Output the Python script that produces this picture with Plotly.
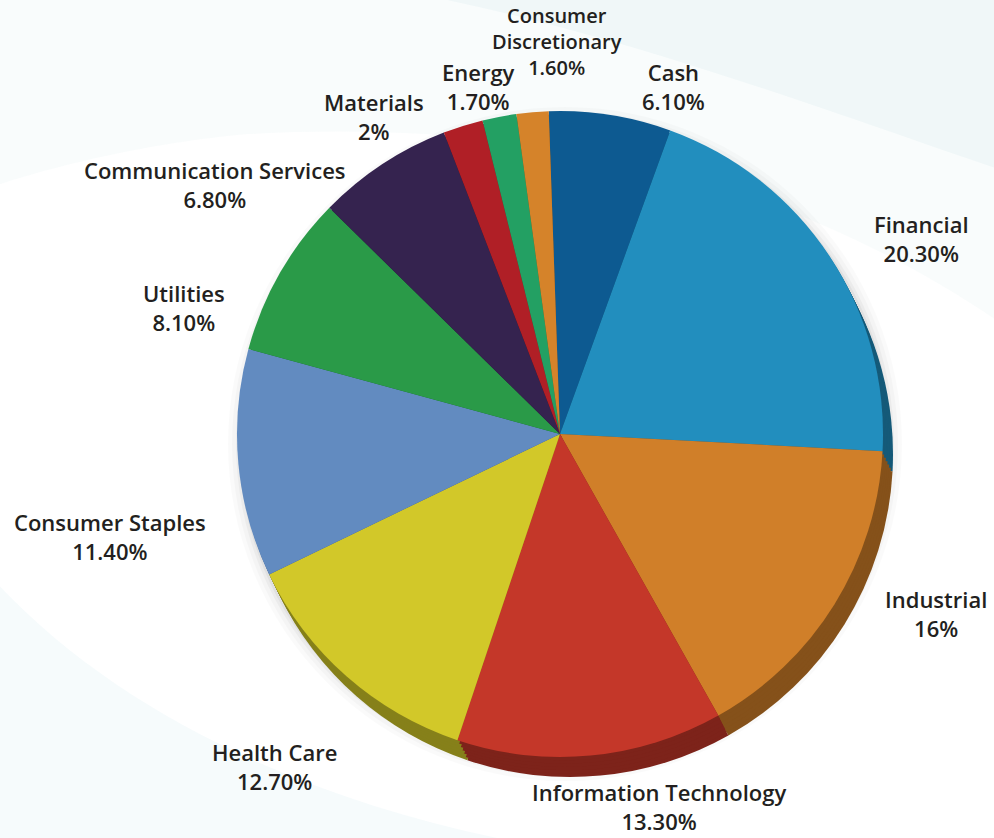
import plotly.graph_objects as go

# Sector allocation data
sectors = ["Cash", "Financial", "Industrial", "Information Technology", "Health Care",
           "Consumer Staples", "Utilities", "Communication Services", "Materials",
           "Energy", "Consumer Discretionary"]
weights = [6.1, 20.3, 16.0, 13.3, 12.7, 11.4, 8.1, 6.8, 2.0, 1.7, 1.6]
value_labels = ["6.10%", "20.30%", "16%", "13.30%", "12.70%", "11.40%",
                "8.10%", "6.80%", "2%", "1.70%", "1.60%"]

face_colors = ["#0D5A91", "#228EBE", "#D07F29", "#C43729", "#D2C829", "#628BC0",
               "#2A9A48", "#35234F", "#B01F26", "#23A063", "#D5832A"]

W, H = 994, 838
CX, CY, R = 560, 434, 323
ROT = -2


def darken(hex_color, f):
    h = hex_color.lstrip("#")
    r, g, b = (int(h[i:i + 2], 16) for i in (0, 2, 4))
    return "#%02X%02X%02X" % (int(r * f), int(g * f), int(b * f))


def domain(cx, cy, r):
    return dict(x=[(cx - r) / W, (cx + r) / W],
                y=[(H - cy - r) / H, (H - cy + r) / H])


fig = go.Figure()

# soft drop shadow under the disc
for k, a in [(14, 0.02), (10, 0.025), (6, 0.035), (3, 0.045)]:
    fig.add_trace(go.Pie(values=[1], marker=dict(colors=[f"rgba(0,0,0,{a})"]),
                         domain=domain(CX + 5, CY + 10, R + k), textinfo="none",
                         hoverinfo="skip", showlegend=False, sort=False))

# extruded side of the disc (darker rim), drawn back to front
rim_colors = [darken(c, 0.64) for c in face_colors]
steps = 6
for s in range(steps, 0, -1):
    dx, dy = 10 * s / steps, 20 * s / steps
    fig.add_trace(go.Pie(values=weights, labels=sectors, sort=False,
                         direction="clockwise", rotation=ROT,
                         marker=dict(colors=rim_colors, line=dict(width=0)),
                         domain=domain(CX + dx, CY + dy, R), textinfo="none",
                         hoverinfo="skip", showlegend=False))

# top face
fig.add_trace(go.Pie(values=weights, labels=sectors, sort=False,
                     direction="clockwise", rotation=ROT,
                     marker=dict(colors=face_colors, line=dict(width=0)),
                     domain=domain(CX, CY, R), textinfo="none",
                     hovertemplate="%{label}: %{value}%<extra></extra>",
                     showlegend=False))

# label centres (pixels): x, y of the middle of the two-line block
label_pos = {
    "Cash": (673, 86),
    "Financial": (921, 239),
    "Industrial": (936, 613),
    "Health Care": (274, 766),
    "Consumer Staples": (110, 536),
    "Utilities": (184, 307),
    "Communication Services": (215, 184),
    "Materials": (374, 117),
    "Energy": (478, 86),
}

font = dict(family="'Open Sans', sans-serif", size=22, color="#231F20", weight=600)
annotations = []
for name, val in zip(sectors, value_labels):
    if name == "Consumer Discretionary":
        # stacked three-line label above the thin slice at the top
        annotations.append(dict(text=f"Consumer<br>Discretionary<br>{val}",
                                x=557 / W, y=1.0, xref="paper", yref="paper",
                                xanchor="center", yanchor="top", showarrow=False,
                                font=dict(font, size=20)))
    elif name == "Information Technology":
        annotations.append(dict(text=f"{name}<br>{val}",
                                x=659 / W, y=0.0, xref="paper", yref="paper",
                                xanchor="center", yanchor="bottom", showarrow=False,
                                font=font))
    else:
        x, y = label_pos[name]
        annotations.append(dict(text=f"{name}<br>{val}", x=x / W, y=1 - y / H,
                                xref="paper", yref="paper",
                                xanchor="center", yanchor="middle", showarrow=False,
                                font=font))

# faint background sweeps
shapes = [
    dict(type="path", xref="paper", yref="paper", layer="below",
         path="M 0 1 L 1 1 L 1 0.62 C 0.8 0.78, 0.55 0.86, 0.25 0.84 C 0.15 0.83, 0.05 0.8, 0 0.78 Z",
         fillcolor="rgba(215,234,238,0.16)", line=dict(width=0)),
    dict(type="path", xref="paper", yref="paper", layer="below",
         path="M 0.45 1 L 1 1 L 1 0.8 C 0.85 0.86, 0.65 0.95, 0.45 1 Z",
         fillcolor="rgba(205,230,234,0.2)", line=dict(width=0)),
    dict(type="path", xref="paper", yref="paper", layer="below",
         path="M 0 0 L 0.5 0 C 0.3 0.05, 0.12 0.15, 0 0.3 Z",
         fillcolor="rgba(210,236,240,0.2)", line=dict(width=0)),
]

fig.update_layout(width=W, height=H, margin=dict(l=0, r=0, t=0, b=0),
                  paper_bgcolor="white", plot_bgcolor="white",
                  annotations=annotations, shapes=shapes, showlegend=False)

fig.write_html("out.html")
